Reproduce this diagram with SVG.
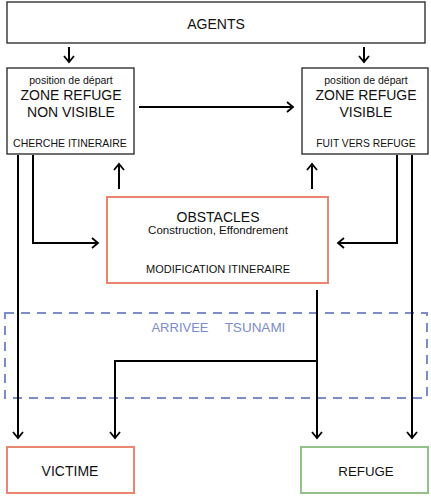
<svg xmlns="http://www.w3.org/2000/svg" width="431" height="496" viewBox="0 0 431 496">
<defs>
<style>
text{font-family:"Liberation Sans",Arial,sans-serif;fill:#111;text-anchor:middle}
.box{fill:#fff;stroke:#222;stroke-width:1.3}
.red{fill:#fff;stroke:#E8866F;stroke-width:2}
.green{fill:#fff;stroke:#92C289;stroke-width:2}
.ln{fill:none;stroke:#000;stroke-width:2}
.ar{marker-end:url(#ah)}
.blue{fill:#7B8DC9}
</style>
<marker id="ah" markerUnits="userSpaceOnUse" markerWidth="14" markerHeight="14" viewBox="-8 -7 10 14" refX="0" refY="0" orient="auto">
<path d="M-6,-5 L0,0 L-6,5" fill="none" stroke="#000" stroke-width="1.8"/>
</marker>
</defs>
<rect width="431" height="496" fill="#fff"/>
<g id="tsunami">
<rect x="5" y="313" width="422" height="85" fill="none" stroke="#7B8DC9" stroke-width="2" stroke-dasharray="9,7"/>
<text class="blue" x="180" y="332" font-size="13" style="fill:#7B8DC9">ARRIVEE</text>
<text class="blue" x="255" y="332" font-size="13.5" style="fill:#7B8DC9">TSUNAMI</text>
</g>
<g id="connectors">
<line class="ln ar" x1="69" y1="47" x2="69" y2="62"/>
<line class="ln ar" x1="364" y1="47" x2="364" y2="62"/>
<line class="ln ar" x1="139" y1="107" x2="293" y2="107"/>
<line class="ln ar" x1="18" y1="155" x2="18" y2="438"/>
<polyline class="ln ar" points="33,155 33,243 98,243"/>
<line class="ln ar" x1="119" y1="189" x2="119" y2="164"/>
<line class="ln ar" x1="312" y1="189" x2="312" y2="164"/>
<polyline class="ln ar" points="397,155 397,243 338,243"/>
<line class="ln ar" x1="412" y1="155" x2="412" y2="438"/>
<line class="ln ar" x1="317" y1="290" x2="317" y2="438"/>
<polyline class="ln ar" points="317,361 115,361 115,438"/>
</g>
<g id="agents">
<rect class="box" x="7" y="2" width="418" height="41"/>
<text x="216" y="29" font-size="14">AGENTS</text>
</g>
<g id="zone-non-visible">
<rect class="box" x="7" y="68" width="127" height="86"/>
<text x="71" y="84" font-size="10.5">position de départ</text>
<text x="71" y="100" font-size="14">ZONE REFUGE</text>
<text x="71" y="117" font-size="14">NON VISIBLE</text>
<text x="70" y="147" font-size="10.5">CHERCHE ITINERAIRE</text>
</g>
<g id="zone-visible">
<rect class="box" x="302" y="68" width="126" height="86"/>
<text x="366" y="84" font-size="10.5">position de départ</text>
<text x="366" y="100" font-size="14">ZONE REFUGE</text>
<text x="366" y="117" font-size="14">VISIBLE</text>
<text x="366" y="147" font-size="10.3">FUIT VERS REFUGE</text>
</g>
<g id="obstacles">
<rect class="red" x="107" y="197" width="221" height="86"/>
<text x="218" y="222" font-size="14">OBSTACLES</text>
<text x="218" y="234" font-size="11.5">Construction, Effondrement</text>
<text x="218" y="273" font-size="11">MODIFICATION ITINERAIRE</text>
</g>
<g id="victime">
<rect class="red" x="7" y="447" width="127" height="46"/>
<text x="70" y="476" font-size="14">VICTIME</text>
</g>
<g id="refuge">
<rect class="green" x="301" y="447" width="127" height="46"/>
<text x="366" y="476" font-size="13.3">REFUGE</text>
</g>
</svg>
